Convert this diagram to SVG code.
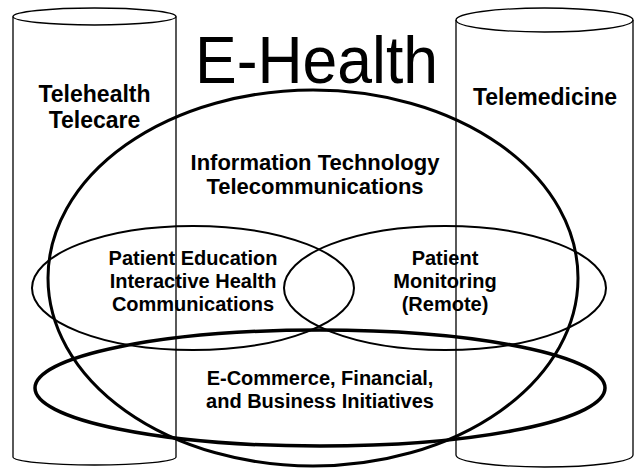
<svg xmlns="http://www.w3.org/2000/svg" width="636" height="468" viewBox="0 0 636 468">
  <style>
    .cyl { fill: none; stroke: #000; stroke-width: 1.3; }
    .ring { fill: none; stroke: #000; }
    .lbl { font-family: "Liberation Sans", Arial, sans-serif; font-weight: bold; fill: #000; text-anchor: middle; }
    .title { font-family: "Liberation Sans", Arial, sans-serif; fill: #000; text-anchor: middle; }
  </style>
  <rect width="636" height="468" fill="#fff"/>

  <!-- Left cylinder -->
  <g id="telehealth">
    <ellipse class="cyl" cx="94.5" cy="16.5" rx="81.5" ry="8.5"/>
    <path class="cyl" d="M13 16.5 V457 A81.5 8 0 0 0 176 457 V16.5"/>
    <text class="lbl" font-size="23" x="94.5" y="102">Telehealth</text>
    <text class="lbl" font-size="23" x="94.5" y="128">Telecare</text>
  </g>

  <!-- Right cylinder -->
  <g id="telemedicine">
    <ellipse class="cyl" cx="544.5" cy="20" rx="88.5" ry="12"/>
    <path class="cyl" d="M456 20 V455 A88.5 12 0 0 0 633 455 V20"/>
    <text class="lbl" font-size="23" x="545" y="105">Telemedicine</text>
  </g>

  <!-- Title -->
  <text class="title" font-size="67" x="316.5" y="83" textLength="243" lengthAdjust="spacingAndGlyphs">E-Health</text>

  <!-- Large enclosing ellipse -->
  <g id="it-telecom">
    <ellipse class="ring" stroke-width="3" cx="313" cy="278" rx="265" ry="188"/>
    <text class="lbl" font-size="22" x="315" y="170">Information Technology</text>
    <text class="lbl" font-size="22" x="315" y="194">Telecommunications</text>
  </g>

  <!-- Patient education -->
  <g id="patient-education">
    <ellipse class="ring" stroke-width="2" cx="193" cy="288" rx="161" ry="62"/>
    <text class="lbl" font-size="20" x="193" y="265">Patient Education</text>
    <text class="lbl" font-size="20" x="193" y="288">Interactive Health</text>
    <text class="lbl" font-size="20" x="193" y="311">Communications</text>
  </g>

  <!-- Patient monitoring -->
  <g id="patient-monitoring">
    <ellipse class="ring" stroke-width="2" cx="445" cy="288" rx="161" ry="62"/>
    <text class="lbl" font-size="20" x="445" y="265">Patient</text>
    <text class="lbl" font-size="20" x="445" y="288">Monitoring</text>
    <text class="lbl" font-size="20" x="445" y="311">(Remote)</text>
  </g>

  <!-- E-commerce -->
  <g id="e-commerce">
    <ellipse class="ring" stroke-width="3.5" cx="320" cy="388" rx="285" ry="58"/>
    <text class="lbl" font-size="20" x="320" y="385">E-Commerce, Financial,</text>
    <text class="lbl" font-size="20" x="320" y="408">and Business Initiatives</text>
  </g>
</svg>
